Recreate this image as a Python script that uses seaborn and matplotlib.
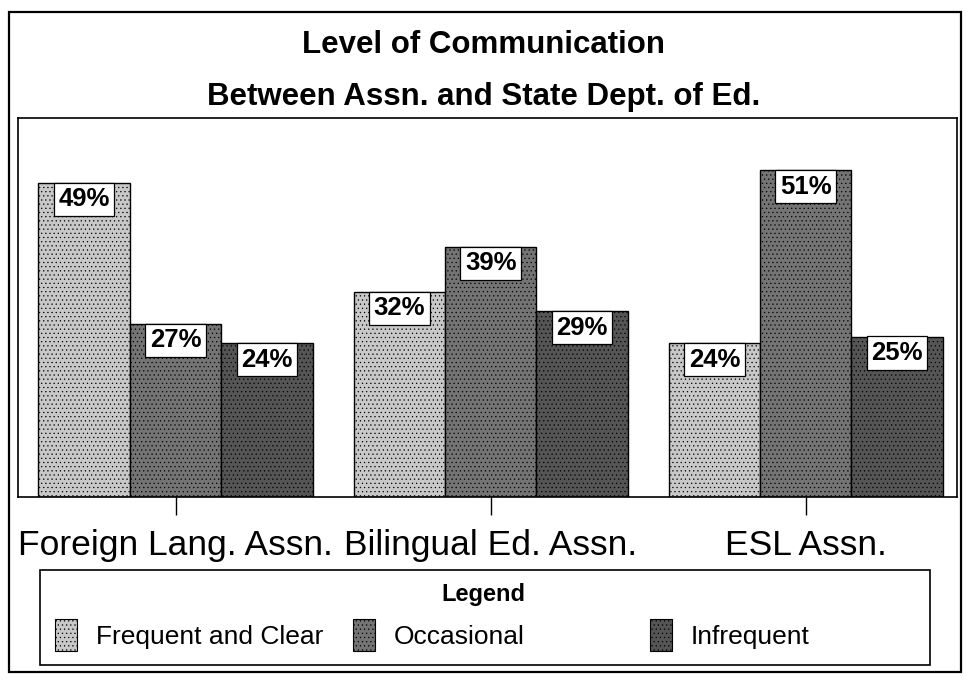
"""
Level of Communication between associations and the State Dept. of Ed.
Grouped bar chart, greyscale, saved to out.png.
"""

import matplotlib
matplotlib.use("Agg")
import matplotlib.pyplot as plt
from matplotlib.patches import Patch, Rectangle
import pandas as pd
import seaborn as sns

sns.set_style("white")
plt.rcParams["font.family"] = ["Liberation Sans", "DejaVu Sans"]
plt.rcParams["text.color"] = "black"
plt.rcParams["xtick.color"] = "black"
plt.rcParams["xtick.labelcolor"] = "black"
plt.rcParams["hatch.linewidth"] = 0.4

# data
groups = ["Foreign Lang. Assn.", "Bilingual Ed. Assn.", "ESL Assn."]
levels = ["Frequent and Clear", "Occasional", "Infrequent"]
frequent = [49, 32, 24]
occasional = [27, 39, 51]
infrequent = [24, 29, 25]

colors = ["#c8c8c8", "#747474", "#555555"]
hatches = ["....", "....", "...."]

df = pd.DataFrame({
    "group": groups * 3,
    "level": [lv for lv in levels for _ in groups],
    "pct": frequent + occasional + infrequent,
})

fig = plt.figure(figsize=(9.67, 6.8), dpi=100)
ax = fig.add_axes([0.0186, 0.2691, 0.971, 0.5574])

sns.barplot(data=df, x="group", y="pct", hue="level", order=groups,
            hue_order=levels, palette=colors, width=0.87, saturation=1,
            edgecolor="black", linewidth=1, legend=False, ax=ax)

# texture + white value boxes inside the top of each bar
for container, hatch in zip(ax.containers, hatches):
    for bar in container:
        bar.set_hatch(hatch)
        h = bar.get_height()
        ax.annotate(f"{h:.0f}%", (bar.get_x() + bar.get_width() / 2, h),
                    xytext=(0, -3), textcoords="offset points",
                    ha="center", va="top", fontsize=18.5, fontweight="bold",
                    bbox=dict(boxstyle="square,pad=0.18", fc="white",
                              ec="black", lw=0.9))

ax.set_xlim(-0.5, 2.48)
ax.set_ylim(0, 59.2)
ax.set_yticks([])
ax.set_xlabel("")
ax.set_ylabel("")
ax.tick_params(axis="x", direction="out", length=13, width=1, pad=10,
               labelsize=25.5, bottom=True)
for side in ax.spines.values():
    side.set_visible(True)
    side.set_color("black")
    side.set_linewidth(1.2)

# title
fig.text(0.5, 0.934, "Level of Communication", ha="center", va="center",
         fontsize=22.5, fontweight="bold")
fig.text(0.5, 0.857, "Between Assn. and State Dept. of Ed.", ha="center",
         va="center", fontsize=22.5, fontweight="bold")

# outer frame
fig.patches.append(Rectangle((0.009, 0.012), 0.985, 0.97, transform=fig.transFigure,
                             fill=False, ec="black", lw=1.6))

# legend box with three evenly placed entries
fig.patches.append(Rectangle((0.0414, 0.022), 0.920, 0.140, transform=fig.transFigure,
                             fill=False, ec="black", lw=1.2))
fig.text(0.5, 0.125, "Legend", ha="center", va="center", fontsize=17,
         fontweight="bold")
xs = [0.0569, 0.365, 0.672]
for lv, c, hatch, x in zip(levels, colors, hatches, xs):
    fig.legend(handles=[Patch(fc=c, ec="black", hatch=hatch, lw=0.8, label=lv)],
               loc="center left", bbox_to_anchor=(x, 0.066), frameon=False,
               fontsize=19, handlelength=0.85, handleheight=1.45,
               handletextpad=0.7, borderpad=0, borderaxespad=0)

fig.savefig("out.png", dpi=100)
